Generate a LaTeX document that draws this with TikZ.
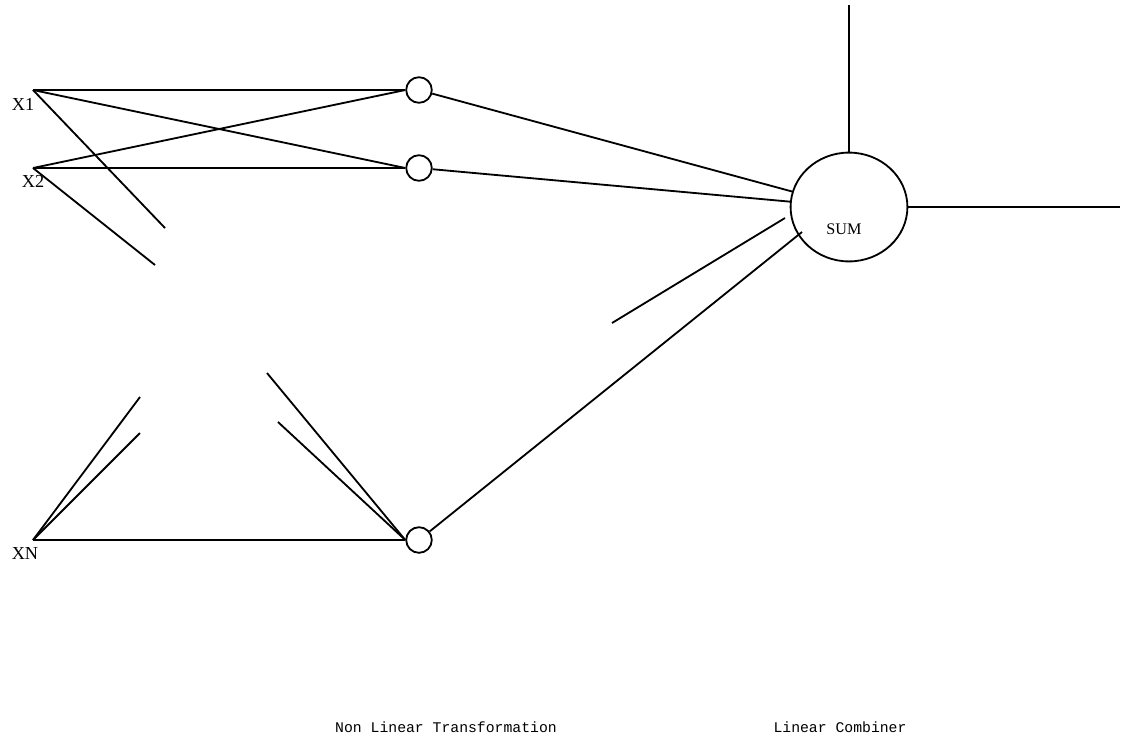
\documentclass[tikz,border=0pt]{standalone}
\usepackage{fontspec}
\setmainfont{Liberation Serif}
\setmonofont{Liberation Mono}
\usetikzlibrary{shapes.geometric}

\begin{document}
\begin{tikzpicture}[x=0.025cm,y=-0.025cm,line width=1.3pt,
  hid/.style={circle,draw,inner sep=0,minimum size=0.64cm},
  inp/.style={font=\fontsize{13}{13}\selectfont},
  caption/.style={font=\ttfamily\fontsize{10.5}{12}\selectfont}]
\useasboundingbox (0,0) rectangle (1122,746);
\coordinate (x1) at (33,90);
\coordinate (x2) at (33,168);
\coordinate (xn) at (33,540);
\node[inp] (l1) at (23,104) {X1};
\node[inp] (l2) at (33,181) {X2};
\node[inp] (ln) at (25,553) {XN};
\node[hid] (h1) at (419,90) {};
\node[hid] (h2) at (419,168) {};
\node[hid] (hn) at (419,540) {};
\node[ellipse,draw,inner sep=0,minimum width=2.92cm,minimum height=2.72cm] (sum) at (849,207) {};
\node[font=\fontsize{11.5}{12}\selectfont] (sl) at (844,229) {SUM};
\coordinate (a1) at (165,228);
\coordinate (a2) at (155,265);
\coordinate (an1) at (140,397);
\coordinate (an2) at (140,433);
\coordinate (bn1) at (267,373);
\coordinate (bn2) at (278,422);
\coordinate (c1) at (612,323);
\coordinate (c2) at (785,218);
\coordinate (sin) at (802,232);
\coordinate (top) at (849,5);
\coordinate (out) at (1120,207);
\draw (x1) -- (h1.west);
\draw (x1) -- (h2.west);
\draw (x1) -- (a1);
\draw (x2) -- (h1.west);
\draw (x2) -- (h2.west);
\draw (x2) -- (a2);
\draw (xn) -- (an1);
\draw (xn) -- (an2);
\draw (xn) -- (hn.west);
\draw (bn1) -- (hn.west);
\draw (bn2) -- (hn.west);
\draw (h1) -- (sum);
\draw (h2) -- (sum);
\draw (hn) -- (sin);
\draw (c1) -- (c2);
\draw (sum.north) -- (top);
\draw (sum.east) -- (out);
\node[caption] (nlt) at (446,727) {Non Linear Transformation};
\node[caption] (lc) at (840,727) {Linear Combiner};
\end{tikzpicture}
\end{document}
